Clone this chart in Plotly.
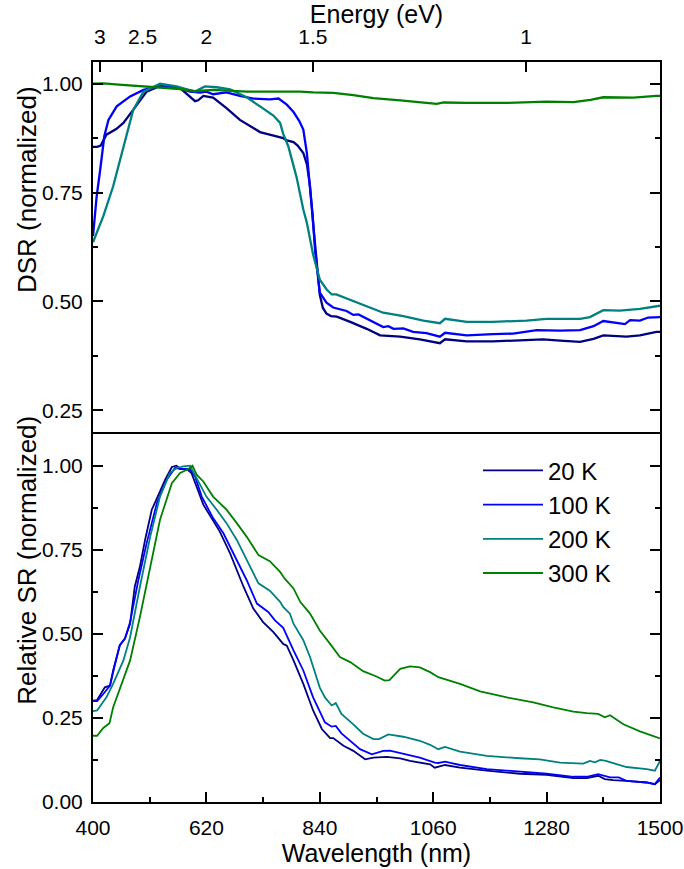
import plotly.graph_objects as go

# ---------------- data ----------------
labels = ["20 K", "100 K", "200 K", "300 K"]
colors = ["#000080", "#0000FF", "#008080", "#008000"]

# Top panel: DSR (normalized)
dsr20_wl = [400, 408, 415, 426, 445, 459, 478, 504, 530, 550, 569, 588, 598, 604, 614, 633, 659, 685, 711, 724,
            737, 769, 776, 789, 797, 808, 815, 821, 827, 834, 840, 846, 853, 862, 873, 899, 931, 957, 996, 1034,
            1073, 1083, 1125, 1176, 1228, 1273, 1306, 1345, 1371, 1390, 1435, 1461, 1493, 1500]
dsr20 = [0.855, 0.855, 0.858, 0.883, 0.896, 0.91, 0.94, 0.982, 0.995, 0.994, 0.99, 0.971, 0.96, 0.962, 0.972, 0.968, 0.944, 0.917, 0.898, 0.889,
         0.885, 0.875, 0.87, 0.866, 0.858, 0.841, 0.815, 0.765, 0.68, 0.585, 0.515, 0.485, 0.472, 0.466, 0.465, 0.453, 0.437, 0.422, 0.419, 0.413,
         0.404, 0.413, 0.408, 0.408, 0.41, 0.413, 0.41, 0.407, 0.414, 0.422, 0.419, 0.422, 0.43, 0.43]

dsr100_wl = [400, 407, 414, 422, 430, 446, 472, 498, 530, 562, 588, 608, 620, 633, 659, 685, 711, 743, 760, 776,
             789, 800, 808, 815, 821, 826, 831, 836, 840, 853, 866, 892, 905, 915, 937, 963, 973, 983, 1002, 1021,
             1047, 1073, 1083, 1125, 1176, 1215, 1261, 1306, 1345, 1371, 1390, 1410, 1432, 1442, 1461, 1477, 1493, 1500]
dsr100 = [0.65, 0.74, 0.803, 0.88, 0.917, 0.948, 0.971, 0.986, 0.995, 0.992, 0.982, 0.98, 0.982, 0.976, 0.98, 0.972, 0.966, 0.964, 0.966, 0.952,
          0.935, 0.915, 0.895, 0.84, 0.76, 0.70, 0.615, 0.56, 0.52, 0.497, 0.486, 0.478, 0.469, 0.47, 0.457, 0.441, 0.443, 0.437, 0.438, 0.43,
          0.427, 0.419, 0.428, 0.422, 0.425, 0.426, 0.434, 0.433, 0.434, 0.443, 0.455, 0.452, 0.448, 0.457, 0.456, 0.463, 0.464, 0.464]

dsr200_wl = [400, 420, 439, 459, 478, 498, 530, 562, 582, 598, 617, 640, 666, 698, 724, 750, 763, 769, 779, 789,
             795, 808, 815, 827, 840, 853, 863, 872, 905, 937, 963, 1002, 1041, 1073, 1083, 1125, 1176, 1241, 1280, 1345,
             1364, 1390, 1422, 1461, 1493, 1500]
dsr200 = [0.636, 0.696, 0.764, 0.856, 0.94, 0.982, 1.0, 0.994, 0.988, 0.982, 0.994, 0.992, 0.987, 0.969, 0.948, 0.927, 0.91, 0.885, 0.856, 0.812,
          0.785, 0.711, 0.68, 0.608, 0.55, 0.528, 0.516, 0.516, 0.501, 0.486, 0.474, 0.466, 0.456, 0.45, 0.46, 0.453, 0.453, 0.456, 0.46, 0.46,
          0.464, 0.48, 0.479, 0.483, 0.489, 0.49]

dsr300_wl = [400, 420, 450, 504, 569, 598, 633, 698, 763, 802, 827, 866, 905, 944, 996, 1040, 1067, 1080, 1125, 1203,
             1280, 1332, 1365, 1390, 1448, 1493, 1500]
dsr300 = [1.0, 1.001, 0.998, 0.994, 0.988, 0.983, 0.986, 0.982, 0.983, 0.982, 0.98, 0.979, 0.974, 0.967, 0.962, 0.957, 0.954, 0.957, 0.956, 0.956,
          0.959, 0.958, 0.963, 0.969, 0.968, 0.972, 0.972]

# Bottom panel: Relative SR (normalized)
sr20_wl = [400, 408, 423, 433, 439, 452, 462, 472, 481, 491, 501, 514, 527, 540, 553, 562, 569, 582, 591, 601,
           614, 630, 646, 666, 692, 711, 730, 750, 769, 776, 789, 808, 827, 844, 853, 860, 866, 886, 905, 928,
           944, 970, 996, 1015, 1054, 1063, 1083, 1112, 1164, 1228, 1280, 1332, 1358, 1380, 1393, 1409, 1435, 1474, 1490, 1500]
sr20 = [0.301, 0.303, 0.341, 0.346, 0.391, 0.466, 0.486, 0.53, 0.64, 0.70, 0.779, 0.869, 0.913, 0.958, 0.996, 1.0, 0.99, 0.99, 0.978, 0.938,
        0.884, 0.844, 0.804, 0.739, 0.64, 0.575, 0.535, 0.505, 0.47, 0.465, 0.421, 0.351, 0.272, 0.217, 0.20, 0.19, 0.19, 0.167, 0.152, 0.127,
        0.132, 0.134, 0.13, 0.122, 0.112, 0.102, 0.11, 0.102, 0.093, 0.084, 0.081, 0.071, 0.071, 0.078, 0.068, 0.065, 0.063, 0.058, 0.053, 0.065]

sr100_wl = [400, 408, 420, 433, 443, 452, 462, 472, 488, 504, 524, 543, 559, 575, 588, 598, 611, 633, 653, 672,
            698, 718, 740, 753, 769, 789, 808, 827, 840, 850, 863, 871, 882, 899, 918, 941, 963, 976, 1002, 1034,
            1063, 1070, 1083, 1112, 1164, 1228, 1280, 1332, 1358, 1380, 1403, 1420, 1435, 1474, 1490, 1500]
sr100 = [0.30, 0.30, 0.321, 0.346, 0.411, 0.466, 0.486, 0.535, 0.66, 0.769, 0.889, 0.958, 0.993, 0.99, 0.99, 0.968, 0.908, 0.844, 0.799, 0.739,
         0.66, 0.59, 0.565, 0.54, 0.518, 0.451, 0.391, 0.311, 0.27, 0.237, 0.224, 0.226, 0.204, 0.182, 0.157, 0.142, 0.152, 0.153, 0.144, 0.132,
         0.117, 0.116, 0.12, 0.11, 0.098, 0.09, 0.084, 0.075, 0.075, 0.083, 0.073, 0.073, 0.063, 0.058, 0.053, 0.073]

sr200_wl = [400, 408, 426, 439, 459, 472, 491, 511, 530, 549, 562, 575, 588, 604, 620, 640, 659, 679, 698, 721,
            743, 763, 769, 782, 789, 808, 821, 827, 840, 850, 863, 871, 882, 905, 924, 944, 955, 973, 1002, 1034,
            1054, 1070, 1083, 1112, 1164, 1228, 1267, 1306, 1351, 1364, 1374, 1384, 1395, 1435, 1474, 1490, 1500]
sr200 = [0.27, 0.272, 0.311, 0.351, 0.421, 0.49, 0.64, 0.789, 0.908, 0.978, 0.993, 0.998, 1.0, 0.953, 0.908, 0.869, 0.829, 0.779, 0.719, 0.65,
         0.628, 0.595, 0.58, 0.56, 0.53, 0.481, 0.431, 0.401, 0.34, 0.311, 0.287, 0.294, 0.262, 0.231, 0.203, 0.187, 0.187, 0.201, 0.194, 0.182,
         0.17, 0.157, 0.164, 0.15, 0.137, 0.13, 0.127, 0.117, 0.114, 0.122, 0.118, 0.125, 0.122, 0.104, 0.098, 0.093, 0.122]

sr300_wl = [400, 408, 420, 432, 439, 472, 491, 511, 530, 553, 569, 585, 593, 601, 614, 633, 659, 679, 698, 721,
            743, 763, 772, 789, 802, 821, 840, 860, 879, 899, 924, 950, 966, 975, 996, 1015, 1034, 1054, 1070, 1112,
            1151, 1203, 1254, 1293, 1332, 1358, 1370, 1380, 1393, 1403, 1429, 1461, 1500]
sr300 = [0.197, 0.197, 0.22, 0.234, 0.281, 0.421, 0.55, 0.70, 0.839, 0.948, 0.978, 0.99, 1.0, 0.973, 0.953, 0.908, 0.869, 0.829, 0.789, 0.734,
         0.716, 0.684, 0.664, 0.635, 0.595, 0.56, 0.51, 0.47, 0.431, 0.416, 0.389, 0.373, 0.361, 0.362, 0.396, 0.403, 0.40, 0.386, 0.371, 0.351,
         0.329, 0.311, 0.296, 0.281, 0.269, 0.264, 0.262, 0.262, 0.252, 0.258, 0.231, 0.21, 0.189]

energy_ticks = [3, 2.5, 2, 1.5, 1]          # eV
energy_ticktext = ["3", "2.5", "2", "1.5", "1"]
wl_ticks = [400, 620, 840, 1060, 1280, 1500]

top_series = [(dsr20_wl, dsr20), (dsr100_wl, dsr100), (dsr200_wl, dsr200), (dsr300_wl, dsr300)]
bot_series = [(sr20_wl, sr20), (sr100_wl, sr100), (sr200_wl, sr200), (sr300_wl, sr300)]

FONT = "Liberation Sans, Arial, sans-serif"

fig = go.Figure()
for (x, y), c, lab in zip(top_series, colors, labels):
    fig.add_trace(go.Scatter(x=x, y=y, mode="lines", line=dict(color=c, width=2.3),
                             xaxis="x2", yaxis="y2", showlegend=False, name=lab))
for (x, y), c, lab in zip(bot_series, colors, labels):
    fig.add_trace(go.Scatter(x=x, y=y, mode="lines", line=dict(color=c, width=1.8),
                             xaxis="x", yaxis="y", showlegend=True, name=lab))

axis_common = dict(showgrid=False, zeroline=False, showline=True, linecolor="black", linewidth=2,
                   ticks="inside", tickcolor="black", tickwidth=2, ticklen=10, automargin=False,
                   tickfont=dict(family=FONT, size=21, color="black"))

fig.update_layout(
    width=684, height=869,
    margin=dict(l=93, r=24, t=62, b=67, autoexpand=False),
    paper_bgcolor="white", plot_bgcolor="white",
    font=dict(family=FONT, color="black"),
    xaxis=dict(domain=[0, 1], anchor="y", range=[400, 1500], tickvals=wl_ticks,
               mirror=False, ticklabelstandoff=6,
               minor=dict(dtick=110, tick0=400, ticks="inside", ticklen=5, tickwidth=2, tickcolor="black"),
               title=dict(text="Wavelength (nm)", font=dict(family=FONT, size=25), standoff=6),
               **axis_common),
    yaxis=dict(domain=[0, 0.5], anchor="x", range=[0, 1.1], tickvals=[0, 0.25, 0.5, 0.75, 1.0],
               tickformat=".2f", mirror="allticks", ticklabelstandoff=4,
               minor=dict(dtick=0.125, tick0=0, ticks="inside", ticklen=5, tickwidth=2, tickcolor="black"),
               **axis_common),
    xaxis2=dict(domain=[0, 1], anchor="y2", range=[400, 1500], side="top",
                tickvals=[1240 / e for e in energy_ticks], ticktext=energy_ticktext,
                mirror=True, ticklabelstandoff=8,
                title=dict(text="Energy (eV)", font=dict(family=FONT, size=25), standoff=4),
                **axis_common),
    yaxis2=dict(domain=[0.5, 1], anchor="x2", range=[0.2, 1.05], tickvals=[0.25, 0.5, 0.75, 1.0],
                tickformat=".2f", mirror="allticks", ticklabelstandoff=4,
                minor=dict(dtick=0.125, tick0=0, ticks="inside", ticklen=5, tickwidth=2, tickcolor="black"),
                **axis_common),
    legend=dict(x=0.679, y=0.478, xanchor="left", yanchor="top", bgcolor="rgba(0,0,0,0)",
                font=dict(family=FONT, size=24, color="black"), itemwidth=60, tracegroupgap=0),
    annotations=[
        dict(text="DSR (normalized)", textangle=-90, xref="paper", yref="paper", x=-0.1164, y=0.827,
             xanchor="center", yanchor="middle", showarrow=False, font=dict(family=FONT, size=26, color="black")),
        dict(text="Relative SR (normalized)", textangle=-90, xref="paper", yref="paper", x=-0.1164, y=0.326,
             xanchor="center", yanchor="middle", showarrow=False, font=dict(family=FONT, size=26, color="black")),
    ],
)

fig.write_html("out.html")
